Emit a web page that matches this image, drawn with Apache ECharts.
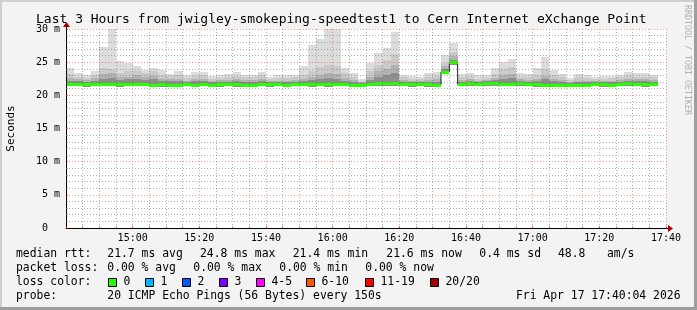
<!DOCTYPE html>
<html><head><meta charset="utf-8">
<script src="https://cdn.jsdelivr.net/npm/echarts@6/dist/echarts.min.js"></script>
<style>html,body{margin:0;padding:0;background:#f3f3f3}#c{width:697px;height:310px}</style>
</head><body><div id="c"></div>
<script>
// ---- data ----
const STEP_MIN = 2.5; // 150 s per step, time in minutes since 14:40
const xTickLabels = ['14:40','15:00','15:20','15:40','16:00','16:20','16:40','17:00','17:20','17:40'];
const yTickLabels = ['0  ','5 m','10 m','15 m','20 m','25 m','30 m'];

const smokeMax = [24.05,23.35,23.0,23.65,27.3,30.0,25.2,24.8,24.45,23.85,
 24.15,23.75,23.25,23.7,23.05,23.55,23.55,22.9,23.05,23.25,
 23.5,23.1,23.1,23.55,22.7,23.1,23.1,23.1,24.35,27.6,
 28.5,30.0,30.0,24.1,23.3,22.5,24.8,26.45,27.1,29.6,
 23.05,22.85,22.8,23.3,23.55,26.15,27.95,23.25,23.4,23.0,
 23.05,24.1,25.05,25.5,23.3,23.2,24.1,25.8,23.8,23.2,
 22.6,23.25,23.1,22.8,22.95,22.95,23.1,23.55,23.3,23.3,
 23.1];
const smokeBand2 = [23.2,22.8,22.6,23.1,24.1,24.0,23.4,23.6,23.6,23.3,
 23.6,23.1,22.9,23.0,22.6,22.9,23.0,22.5,22.6,22.8,
 22.9,22.7,22.7,23.0,22.4,22.6,22.6,22.7,23.1,23.7,
 24.2,24.5,24.4,23.4,22.8,22.2,23.6,24.6,25.3,26.3,
 22.7,22.4,22.4,22.7,22.9,24.9,26.6,22.8,22.9,22.5,
 22.6,23.2,24.0,24.3,22.8,22.7,23.0,23.9,23.1,22.7,
 22.3,22.7,22.6,22.4,22.5,22.6,22.7,22.9,22.8,22.8,
 22.7];
const smokeBand3 = [22.6,22.4,22.3,22.6,23.2,23.3,22.7,22.8,23.0,22.8,
 22.9,22.5,22.4,22.4,22.2,22.4,22.4,22.2,22.3,22.3,
 22.4,22.3,22.3,22.5,22.1,22.2,22.2,22.3,22.5,22.8,
 23.0,23.4,23.2,22.6,22.3,22.0,22.8,23.6,24.0,24.6,
 22.3,22.1,22.1,22.3,22.4,24.4,25.9,22.3,22.5,22.2,
 22.3,22.6,23.0,23.2,22.4,22.3,22.5,22.9,22.5,22.3,
 22.0,22.2,22.2,22.1,22.2,22.2,22.3,22.5,22.4,22.4,
 22.3];
const smokeBand4 = [22.2,22.1,22.0,22.2,22.5,22.6,22.3,22.4,22.5,22.3,
 22.4,22.2,22.1,22.1,22.0,22.1,22.1,21.95,22.0,22.05,
 22.1,22.0,22.0,22.1,21.95,22.0,21.95,22.05,22.15,22.3,
 22.4,22.6,22.5,22.2,22.0,21.9,22.3,22.8,23.0,23.4,
 22.0,21.95,21.95,22.0,22.05,23.95,25.4,22.0,22.2,22.0,
 22.1,22.3,22.5,22.6,22.15,22.05,22.2,22.4,22.2,22.0,
 21.9,22.0,21.95,21.95,22.0,22.0,22.05,22.2,22.1,22.1,
 22.05];
const smokeMin = [21.4,21.35,21.3,21.35,21.4,21.35,21.3,21.4,21.35,21.35,
 21.3,21.3,21.35,21.25,21.35,21.3,21.35,21.3,21.25,21.35,
 21.3,21.3,21.2,21.35,21.3,21.35,21.3,21.35,21.35,21.3,
 21.35,21.3,21.35,21.35,21.3,21.3,21.35,21.4,21.4,21.35,
 21.35,21.3,21.35,21.3,21.3,23.2,24.6,21.4,21.4,21.35,
 21.35,21.4,21.4,21.35,21.4,21.35,21.3,21.25,21.3,21.35,
 21.25,21.3,21.3,21.35,21.3,21.3,21.35,21.4,21.35,21.3,
 21.35];
const medianRtt = [21.7,21.7,21.65,21.65,21.65,21.65,21.65,21.75,21.7,21.65,
 21.6,21.65,21.6,21.6,21.65,21.6,21.65,21.6,21.65,21.65,
 21.65,21.6,21.6,21.65,21.65,21.65,21.6,21.65,21.65,21.65,
 21.65,21.65,21.65,21.65,21.6,21.6,21.65,21.85,21.85,21.85,
 21.65,21.65,21.65,21.65,21.6,23.55,24.95,21.65,21.85,21.7,
 21.8,21.8,21.7,21.7,21.8,21.65,21.65,21.5,21.55,21.6,
 21.6,21.6,21.6,21.65,21.65,21.6,21.7,21.8,21.7,21.65,
 21.65];

const statsRtt = ['21.7 ms avg','24.8 ms max','21.4 ms min','21.6 ms now','0.4 ms sd','48.8','am/s'];
const statsLoss = ['0.00 % avg','0.00 % max','0.00 % min','0.00 % now'];
const lossColorLabels = ['0','1','2','3','4-5','6-10','11-19','20/20'];
const lossColors = ['#26ff00','#00b8ff','#0059ff','#7e00ff','#ff00ff','#ff5500','#ff0000','#a10000'];
const probeText = '20 ICMP Echo Pings (56 Bytes) every 150s';
const stampText = 'Fri Apr 17 17:40:04 2026';
const titleText = 'Last 3 Hours from jwigley-smokeping-speedtest1 to Cern Internet eXchange Point';

// ---- chart ----
const MONO = '"DejaVu Sans Mono", monospace';
const LEG_FONT = '11.4px ' + MONO;

function bandData(lowArr, highArr){
  return highArr.map((h, i) => [i*STEP_MIN, (i+1)*STEP_MIN, lowArr[i], h]);
}
function bandRender(color){
  return function(params, api){
    const a = api.coord([api.value(0), api.value(3)]);
    const b = api.coord([api.value(1), api.value(2)]);
    const x0 = Math.round(a[0]), x1 = Math.round(b[0]);
    const y0 = Math.round(a[1]), y1 = Math.round(b[1]);
    return {type:'rect', shape:{x:x0, y:y0, width:x1-x0, height:Math.max(1, y1-y0)}, style:{fill:color}};
  };
}
function medianRender(params, api){
  const a = api.coord([api.value(0), api.value(2)]);
  const b = api.coord([api.value(1), api.value(2)]);
  const x0 = Math.round(a[0]), x1 = Math.round(b[0]);
  const y = Math.round(a[1]);
  return {type:'rect', shape:{x:x0, y:y-1, width:x1-x0, height:3}, style:{fill:lossColors[0]}};
}

const bands = [
  {low: smokeMin, high: smokeMax, color:'#dcdcdc'},
  {low: smokeMin, high: smokeBand2, color:'#cacaca'},
  {low: smokeMin, high: smokeBand3, color:'#b2b2b2'},
  {low: smokeMin, high: smokeBand4, color:'#8e8e8e'}
];
const series = bands.map((b, k) => ({
  type:'custom', name:'smoke'+k, clip:true, z:2,
  encode:{x:[0,1], y:[2,3]},
  data: bandData(b.low, b.high),
  renderItem: bandRender(b.color),
  silent:true
}));
const stepLine = medianRtt.map((m, i) => [i*STEP_MIN, m]);
stepLine.push([medianRtt.length*STEP_MIN, medianRtt[medianRtt.length-1]]);
series.push({type:'line', step:'end', data: stepLine, symbol:'none', z:3,
  lineStyle:{color:'#202020', width:1}, silent:true});
series.push({type:'custom', name:'median', clip:true, z:4,
  encode:{x:[0,1], y:2},
  data: medianRtt.map((m, i) => [i*STEP_MIN, (i+1)*STEP_MIN, m]),
  renderItem: medianRender, silent:true});

const graphic = [];
// frame
graphic.push({type:'rect', shape:{x:0,y:0,width:697,height:2}, style:{fill:'#cfcfcf'}, silent:true});
graphic.push({type:'rect', shape:{x:0,y:0,width:2,height:310}, style:{fill:'#cfcfcf'}, silent:true});
graphic.push({type:'rect', shape:{x:0,y:307,width:697,height:3}, style:{fill:'#9e9e9e'}, silent:true});
graphic.push({type:'rect', shape:{x:694,y:0,width:3,height:310}, style:{fill:'#9e9e9e'}, silent:true});
// title
graphic.push({type:'text', x:36, y:19.5, style:{text:titleText, font:'13px '+MONO, fill:'#000', align:'left', verticalAlign:'middle'}});
// watermark
graphic.push({type:'text', x:687.5, y:5, rotation:-Math.PI/2, style:{text:'RRDTOOL / TOBI OETIKER', font:'8.3px '+MONO, fill:'#b0b0b0', align:'left', verticalAlign:'middle'}});
// axis arrows
graphic.push({type:'line', shape:{x1:666,y1:228.5,x2:669,y2:228.5}, style:{stroke:'#000', lineWidth:1}});
graphic.push({type:'polygon', shape:{points:[[668,225],[668,232],[673,228.5]]}, style:{fill:'#a00000'}});
graphic.push({type:'line', shape:{x1:66.5,y1:29,x2:66.5,y2:26}, style:{stroke:'#000', lineWidth:1}});
graphic.push({type:'polygon', shape:{points:[[63,27],[70,27],[66.5,22]]}, style:{fill:'#a00000'}});
// legend rows
function txt(x, y, s){ graphic.push({type:'text', x:x, y:y, style:{text:s, font:LEG_FONT, fill:'#000', align:'left', verticalAlign:'middle'}}); }
const row1X = [107.3, 200, 292.7, 386.3, 479.3, 558, 607];
txt(16, 254.5, 'median rtt:');
statsRtt.forEach((s, i) => txt(row1X[i], 254.5, s));
const row2X = [107.3, 193.3, 279.3, 365.3];
txt(16, 268.5, 'packet loss:');
statsLoss.forEach((s, i) => txt(row2X[i], 268.5, s));
txt(16, 282.5, 'loss color:');
const boxX = [108.5, 145.5, 182.5, 219.5, 256.5, 306.5, 365.5, 430.5];
lossColorLabels.forEach((s, i) => {
  graphic.push({type:'rect', shape:{x:boxX[i], y:278.5, width:8, height:8}, style:{fill:lossColors[i], stroke:'#000', lineWidth:1}});
  txt(boxX[i]+15, 282.5, s);
});
txt(16, 296.5, 'probe:');
txt(107.3, 296.5, probeText);
graphic.push({type:'text', x:680.5, y:296.5, style:{text:stampText, font:LEG_FONT, fill:'#000', align:'right', verticalAlign:'middle'}});

const majorGrid = {color:'rgba(240,60,60,0.5)', width:1, type:[1,2]};
const minorGrid = {color:'rgba(100,100,100,0.5)', width:1, type:[1,2]};

const option = {
  animation:false,
  backgroundColor:'#f3f3f3',
  grid:{left:66, right:31, top:29, bottom:82, show:true, backgroundColor:'#ffffff', borderWidth:0,
        containLabel:false, outerBoundsMode:'none'},
  xAxis:{
    type:'value', min:0, max:180, interval:20, z:10,
    axisLine:{show:true, onZero:false, lineStyle:{color:'#000', width:1}},
    axisTick:{show:true, inside:true, length:2, lineStyle:{color:'rgba(255,0,0,0.6)'}},
    minorTick:{show:true, splitNumber:4, length:2, lineStyle:{color:'rgba(128,128,128,0.6)'}},
    axisLabel:{showMinLabel:false, margin:5, fontFamily:MONO, fontSize:10, color:'#000',
      formatter: v => xTickLabels[Math.round(v/20)]},
    splitLine:{show:true, lineStyle:majorGrid},
    minorSplitLine:{show:true, lineStyle:minorGrid}
  },
  yAxis:{
    type:'value', min:0, max:30, interval:5, z:10,
    name:'Seconds', nameLocation:'middle', nameRotate:90, nameGap:49,
    nameTextStyle:{fontFamily:MONO, fontSize:11, color:'#000'},
    axisLine:{show:true, onZero:false, lineStyle:{color:'#000', width:1}},
    axisTick:{show:true, inside:true, length:2, lineStyle:{color:'rgba(255,0,0,0.6)'}},
    minorTick:{show:true, splitNumber:5, length:2, lineStyle:{color:'rgba(128,128,128,0.6)'}},
    axisLabel:{margin:6, fontFamily:MONO, fontSize:10, color:'#000',
      formatter: v => yTickLabels[Math.round(v/5)]},
    splitLine:{show:true, lineStyle:majorGrid},
    minorSplitLine:{show:true, lineStyle:minorGrid}
  },
  series: series,
  graphic: graphic
};
const chart = echarts.init(document.getElementById('c'), null, {renderer:'canvas'});
chart.setOption(option);
</script>
</body></html>
